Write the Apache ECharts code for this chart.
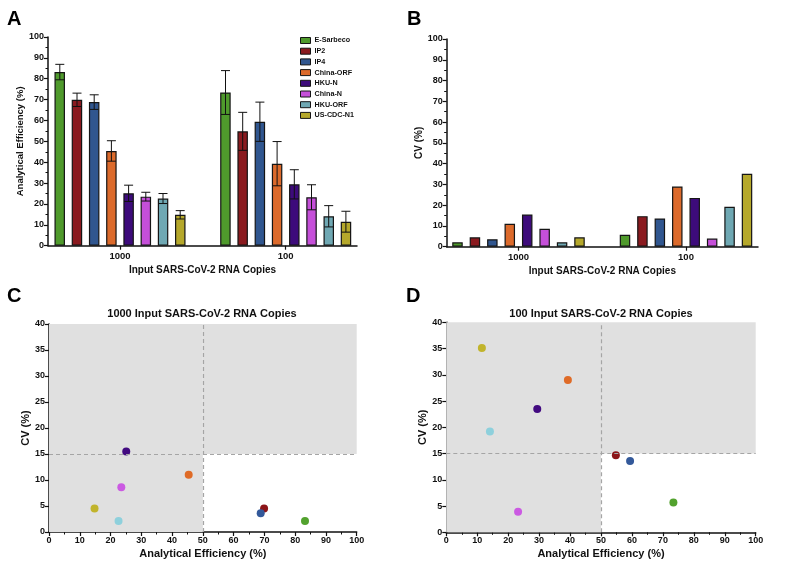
<!DOCTYPE html>
<html><head><meta charset="utf-8">
<script src="https://cdn.jsdelivr.net/npm/echarts@6/dist/echarts.min.js"></script>
<style>html,body{margin:0;padding:0;background:#fff}#c{width:788px;height:567px}</style>
</head><body><div id="c"></div>
<script>
const categories = ['1000', '100'];
const primers = ['E-Sarbeco','IP2','IP4','China-ORF','HKU-N','China-N','HKU-ORF','US-CDC-N1'];
const eff1000 = [83.2, 69.9, 68.8, 45.4, 25.1, 23.5, 22.6, 14.8];
const eff100  = [73.4, 54.8, 59.4, 39.3, 29.4, 23.2, 14.1, 11.5];
const sd1000  = [3.7, 3.2, 3.5, 4.9, 3.9, 2.1, 2.4, 2.0];
const sd100   = [10.5, 9.1, 9.4, 10.6, 7.0, 6.0, 5.1, 5.0];
const cv1000  = [2.1, 4.5, 3.6, 11.0, 15.5, 8.6, 2.1, 4.5];
const cv100   = [5.7, 14.7, 13.6, 29.0, 23.5, 3.9, 19.2, 35.1];
const effTicks = [0, 100, 10];
const cvBarTicks = [0, 100, 10];
const cvScatterTicks = [0, 40, 5];
const titleC = '1000 Input SARS-CoV-2 RNA Copies';
const titleD = '100 Input SARS-CoV-2 RNA Copies';

const barColors = ['#4f9a2c','#8a1a1f','#30568f','#dc6a2b','#3d0b7b','#c54fd9','#6fa8b3','#b5a82b'];
const dotColors = ['#52a22e','#8c1519','#33599a','#df6b27','#420a80','#cb5ae2','#8ed0dc','#c1b42c'];

const FF = 'Liberation Sans';
const chart = echarts.init(document.getElementById('c'));

function errRender(spacing) {
  return function (params, api) {
    const cat = api.value(0), idx = api.value(1);
    const pLo = api.coord([cat, api.value(2)]);
    const pHi = api.coord([cat, api.value(3)]);
    const x = pLo[0] + (idx - 3.5) * spacing;
    const cap = 4.5;
    const st = { stroke: '#111', lineWidth: 1 };
    return { type: 'group', children: [
      { type: 'line', shape: { x1: x, y1: pLo[1], x2: x, y2: pHi[1] }, style: st },
      { type: 'line', shape: { x1: x - cap, y1: pLo[1], x2: x + cap, y2: pLo[1] }, style: st },
      { type: 'line', shape: { x1: x - cap, y1: pHi[1], x2: x + cap, y2: pHi[1] }, style: st }
    ]};
  };
}

const lab = (sz) => ({ fontFamily: FF, fontWeight: 'bold', fontSize: sz, color: '#111' });

function catAxis(gi) {
  return { type: 'category', gridIndex: gi, data: categories,
    axisLine: { show: false },
    axisTick: { show: true, alignWithLabel: true, length: 4, lineStyle: { color: '#111', width: 1.2 } },
    axisLabel: Object.assign({ margin: 6 }, lab(9.5)), splitLine: { show: false } };
}
function frameX(gi, name, gap) {
  return { type: 'value', gridIndex: gi, min: 0, max: 1,
    axisLine: { show: true, lineStyle: { color: '#111', width: 1.5 } },
    axisTick: { show: false }, axisLabel: { show: false }, splitLine: { show: false },
    name: name, nameLocation: 'middle', nameGap: gap, nameTextStyle: lab(10) };
}
function valY(gi, t, name, gap, show, minor, nameSize) {
  return { type: 'value', gridIndex: gi, min: t[0], max: t[1], interval: t[2], show: show,
    axisLine: { show: true, lineStyle: { color: '#111', width: 1.5 } },
    axisTick: { show: true, length: 4, lineStyle: { color: '#111', width: 1.2 } },
    minorTick: { show: minor, splitNumber: 2, length: 2.5, lineStyle: { color: '#111', width: 1 } },
    axisLabel: Object.assign({ margin: 4 }, lab(9)), splitLine: { show: false },
    name: name, nameLocation: 'middle', nameGap: gap, nameTextStyle: lab(nameSize) };
}
function valX(gi, name) {
  return { type: 'value', gridIndex: gi, min: effTicks[0], max: effTicks[1], interval: effTicks[2],
    axisLine: { show: true, lineStyle: { color: '#111', width: 1.5 } },
    axisTick: { show: true, length: 4, lineStyle: { color: '#111', width: 1.2 } },
    minorTick: { show: true, splitNumber: 2, length: 2.5, lineStyle: { color: '#111', width: 1 } },
    axisLabel: Object.assign({ margin: 4 }, lab(9)), splitLine: { show: false },
    name: name, nameLocation: 'middle', nameGap: 16, nameTextStyle: lab(11) };
}

const series = [];
// Panel A bars
primers.forEach((p, i) => series.push({
  type: 'bar', name: p, xAxisIndex: 0, yAxisIndex: 0, barWidth: 10.5, barGap: '64%',
  itemStyle: { color: barColors[i], borderColor: '#151515', borderWidth: 1.2 },
  data: [eff1000[i], eff100[i]], z: 2
}));
const errData = [];
primers.forEach((p, i) => {
  errData.push([0, i, eff1000[i] - sd1000[i], eff1000[i] + sd1000[i]]);
  errData.push([1, i, eff100[i] - sd100[i], eff100[i] + sd100[i]]);
});
series.push({ type: 'custom', name: 'errA', xAxisIndex: 0, yAxisIndex: 0, renderItem: errRender(17.2),
  encode: { x: 0, y: [2, 3] }, data: errData, z: 5, silent: true });
// Panel B bars
primers.forEach((p, i) => series.push({
  type: 'bar', name: p, xAxisIndex: 2, yAxisIndex: 2, barWidth: 10.5, barGap: '66%',
  itemStyle: { color: barColors[i], borderColor: '#151515', borderWidth: 1.2 },
  data: [cv1000[i], cv100[i]], z: 2
}));
// Panels C and D
function quad(xi) {
  return { type: 'scatter', name: 'bg' + xi, xAxisIndex: xi, yAxisIndex: xi, data: [], z: 1, silent: true,
    markArea: { silent: true, itemStyle: { color: '#e0e0e0' }, data: [
      [{ coord: [0, 0] }, { coord: [50, 40] }],
      [{ coord: [50, 15] }, { coord: [100, 40] }] ] },
    markLine: { silent: true, symbol: 'none', label: { show: false },
      lineStyle: { color: '#a5a5a5', width: 1.2, type: [4, 3] },
      data: [{ xAxis: 50 }, { yAxis: 15 }] } };
}
series.push(quad(4), quad(5));
primers.forEach((p, i) => {
  series.push({ type: 'scatter', name: p, xAxisIndex: 4, yAxisIndex: 4, symbolSize: 8, z: 4,
    itemStyle: { color: dotColors[i], opacity: 1 }, data: [[eff1000[i], cv1000[i]]] });
  series.push({ type: 'scatter', name: p, xAxisIndex: 5, yAxisIndex: 5, symbolSize: 8, z: 4,
    itemStyle: { color: dotColors[i], opacity: 1 }, data: [[eff100[i], cv100[i]]] });
});

const letter = (t, x, y) => ({ text: t, left: x, top: y, padding: 0,
  textStyle: { fontFamily: FF, fontWeight: 'bold', fontSize: 20, color: '#000' } });
const sub = (t, x, y) => ({ text: t, left: x, top: y, padding: 0, textAlign: 'center',
  textStyle: { fontFamily: FF, fontWeight: 'bold', fontSize: 11, color: '#111' } });

chart.setOption({
  animation: false,
  backgroundColor: '#fff',
  title: [letter('A', 7, 9), letter('B', 407, 9), letter('C', 7, 286), letter('D', 406, 286),
    sub(titleC, 202, 308), sub(titleD, 601, 308)],
  legend: { data: primers, orient: 'vertical', left: 300, top: 36.5, itemWidth: 10, itemHeight: 6,
    itemGap: 2.7, icon: 'rect', padding: 0,
    itemStyle: { borderColor: '#151515', borderWidth: 1 },
    textStyle: { fontFamily: FF, fontWeight: 'bold', fontSize: 7.2, color: '#111', lineHeight: 8, padding: [0, 0, 0, -1] } },
  grid: [
    { left: 37.15, top: 37, width: 331.4, height: 208.7 },
    { left: 48, top: 37, width: 309, height: 208.7 },
    { left: 434.75, top: 39, width: 335, height: 207.7 },
    { left: 446.7, top: 39, width: 311.3, height: 207.7 },
    { left: 49, top: 324, width: 307.7, height: 208 },
    { left: 446.3, top: 322.3, width: 309.4, height: 210 }
  ],
  xAxis: [ catAxis(0), frameX(1, 'Input SARS-CoV-2 RNA Copies', 20), catAxis(2),
    frameX(3, 'Input SARS-CoV-2 RNA Copies', 20),
    valX(4, 'Analytical Efficiency (%)'), valX(5, 'Analytical Efficiency (%)') ],
  yAxis: [
    valY(0, effTicks, '', 0, false, true, 10),
    valY(1, effTicks, 'Analytical Efficiency (%)', 22, true, true, 9.5),
    valY(2, cvBarTicks, '', 0, false, true, 10),
    valY(3, cvBarTicks, 'CV (%)', 17, true, true, 10),
    valY(4, cvScatterTicks, 'CV (%)', 18, true, false, 11),
    valY(5, cvScatterTicks, 'CV (%)', 18, true, false, 11)
  ],
  series: series
});
</script></body></html>
